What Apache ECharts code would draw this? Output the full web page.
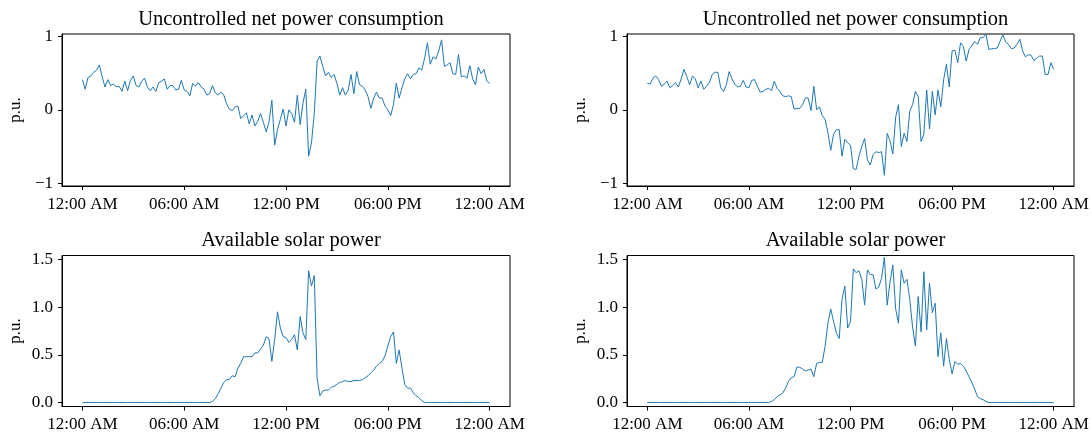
<!DOCTYPE html>
<html>
<head>
<meta charset="utf-8">
<script src="https://cdn.jsdelivr.net/npm/echarts@6/dist/echarts.min.js"></script>
<style>
  html, body { margin: 0; padding: 0; background: #fff; }
  #chart { width: 1092px; height: 434px; }
</style>
</head>
<body>
<div id="chart"></div>
<script>
// samples every 10 minutes, 00:00 .. 24:00 (145 points)
const stepHours = 1 / 6;
const tickHours = [0, 6, 12, 18, 24];
const tickLabels = ['12:00 AM', '06:00 AM', '12:00 PM', '06:00 PM', '12:00 AM'];
const netTicks = [-1, 0, 1];
const solarTicks = [0, 0.5, 1, 1.5];
const titleNet = 'Uncontrolled net power consumption';
const titleSolar = 'Available solar power';

const netLeft = [
  0.41, 0.28, 0.44, 0.46, 0.51, 0.54, 0.61, 0.45, 0.31, 0.41,
  0.33, 0.35, 0.31, 0.32, 0.25, 0.39, 0.26, 0.40, 0.46, 0.33,
  0.31, 0.39, 0.43, 0.31, 0.26, 0.31, 0.25, 0.37, 0.39, 0.42,
  0.28, 0.33, 0.33, 0.27, 0.28, 0.40, 0.27, 0.25, 0.19, 0.36,
  0.32, 0.37, 0.31, 0.28, 0.20, 0.22, 0.33, 0.23, 0.20, 0.24,
  0.20, 0.08, 0.01, -0.01, 0.04, 0.05, -0.12, -0.08, -0.04, -0.19,
  -0.07, -0.22, -0.16, -0.05, -0.17, -0.30, -0.16, 0.13, -0.48, -0.27,
  -0.13, 0.01, -0.22, 0.00, -0.05, -0.17, 0.20, -0.20, 0.09, 0.28,
  -0.63, -0.45, -0.05, 0.66, 0.73, 0.59, 0.46, 0.51, 0.44, 0.48,
  0.36, 0.20, 0.30, 0.20, 0.27, 0.48, 0.22, 0.52, 0.34, 0.32,
  0.27, 0.18, 0.02, 0.16, 0.24, 0.16, 0.16, 0.05, 0.00, -0.08,
  0.07, 0.36, 0.16, 0.30, 0.42, 0.49, 0.42, 0.48, 0.49, 0.57,
  0.54, 0.70, 0.91, 0.62, 0.72, 0.69, 0.80, 0.95, 0.59, 0.61,
  0.64, 0.49, 0.48, 0.75, 0.45, 0.46, 0.43, 0.60, 0.42, 0.34,
  0.58, 0.49, 0.55, 0.39, 0.36
];

const netRight = [
  0.36, 0.35, 0.43, 0.46, 0.41, 0.32, 0.35, 0.39, 0.30, 0.33,
  0.37, 0.31, 0.42, 0.55, 0.45, 0.34, 0.46, 0.42, 0.30, 0.39,
  0.28, 0.32, 0.37, 0.48, 0.51, 0.51, 0.30, 0.25, 0.34, 0.52,
  0.42, 0.35, 0.31, 0.32, 0.40, 0.31, 0.30, 0.40, 0.41, 0.32,
  0.24, 0.25, 0.28, 0.29, 0.26, 0.39, 0.29, 0.25, 0.19, 0.18,
  0.19, 0.18, 0.01, 0.02, 0.02, 0.07, 0.16, 0.16, -0.01, 0.32,
  0.00, 0.04, -0.08, -0.13, -0.31, -0.55, -0.33, -0.27, -0.27, -0.63,
  -0.40, -0.45, -0.48, -0.80, -0.81, -0.63, -0.50, -0.39, -0.68, -0.75,
  -0.61, -0.57, -0.58, -0.57, -0.89, -0.32, -0.42, -0.60, -0.10, 0.07,
  -0.50, -0.32, -0.43, -0.02, 0.07, 0.25, 0.18, -0.43, -0.33, 0.27,
  -0.26, 0.25, -0.07, 0.27, 0.04, 0.41, 0.62, 0.31, 0.80, 0.81,
  0.64, 0.91, 0.86, 0.66, 0.82, 0.87, 0.93, 0.89, 0.98, 0.98,
  1.03, 0.82, 0.83, 0.83, 0.84, 0.93, 1.02, 0.92, 0.89, 0.83,
  0.84, 0.89, 0.96, 0.80, 0.72, 0.75, 0.74, 0.67, 0.70, 0.73,
  0.73, 0.48, 0.48, 0.64, 0.55
];

const solarLeft = [
  0, 0, 0, 0, 0, 0, 0, 0, 0, 0,
  0, 0, 0, 0, 0, 0, 0, 0, 0, 0,
  0, 0, 0, 0, 0, 0, 0, 0, 0, 0,
  0, 0, 0, 0, 0, 0, 0, 0, 0, 0,
  0, 0, 0, 0, 0, 0.00, 0.01, 0.04, 0.09, 0.15,
  0.21, 0.24, 0.24, 0.28, 0.27, 0.36, 0.41, 0.48, 0.48, 0.48,
  0.48, 0.52, 0.52, 0.56, 0.60, 0.69, 0.67, 0.43, 0.66, 0.95,
  0.78, 0.69, 0.68, 0.63, 0.66, 0.71, 0.55, 0.90, 0.73, 0.66,
  1.38, 1.22, 1.33, 0.25, 0.07, 0.12, 0.13, 0.13, 0.16, 0.17,
  0.19, 0.21, 0.22, 0.23, 0.22, 0.22, 0.23, 0.23, 0.23, 0.24,
  0.26, 0.28, 0.31, 0.34, 0.38, 0.41, 0.43, 0.49, 0.59, 0.69,
  0.74, 0.41, 0.55, 0.36, 0.19, 0.15, 0.15, 0.10, 0.07, 0.05,
  0.02, 0, 0, 0, 0, 0, 0, 0, 0, 0,
  0, 0, 0, 0, 0, 0, 0, 0, 0, 0,
  0, 0, 0, 0, 0
];

const solarRight = [
  0, 0, 0, 0, 0, 0, 0, 0, 0, 0,
  0, 0, 0, 0, 0, 0, 0, 0, 0, 0,
  0, 0, 0, 0, 0, 0, 0, 0, 0, 0,
  0, 0, 0, 0, 0, 0, 0, 0, 0, 0,
  0, 0, 0, 0, 0.01, 0.03, 0.06, 0.08, 0.10, 0.15,
  0.22, 0.26, 0.27, 0.37, 0.37, 0.35, 0.33, 0.34, 0.35, 0.27,
  0.41, 0.42, 0.42, 0.59, 0.83, 0.98, 0.85, 0.73, 0.67, 1.08,
  1.22, 0.78, 0.85, 1.40, 1.36, 1.38, 1.29, 1.02, 1.39, 1.34,
  1.34, 1.19, 1.21, 1.30, 1.52, 1.02, 1.26, 1.44, 0.98, 0.83,
  1.39, 1.25, 1.29, 1.08, 0.79, 0.59, 1.11, 0.74, 1.37, 0.76,
  1.25, 0.94, 1.04, 0.48, 0.73, 0.38, 0.67, 0.45, 0.30, 0.43,
  0.40, 0.41, 0.38, 0.33, 0.27, 0.21, 0.14, 0.06, 0.04, 0.03,
  0.01, 0, 0, 0, 0, 0, 0, 0, 0, 0,
  0, 0, 0, 0, 0, 0, 0, 0, 0, 0,
  0, 0, 0, 0, 0
];

const font = '"Liberation Serif", "DejaVu Serif", serif';
const blue = '#1f77b4';

// one entry per subplot
const panels = [
  {title: titleNet, data: netLeft, left: 62, top: 34, width: 448, height: 152, kind: 'net'},
  {title: titleNet, data: netRight, left: 627, top: 34, width: 447, height: 152, kind: 'net'},
  {title: titleSolar, data: solarLeft, left: 62, top: 255.5, width: 448, height: 151, kind: 'solar'},
  {title: titleSolar, data: solarRight, left: 627, top: 255.5, width: 447, height: 151, kind: 'solar'},
];

const fmtNet = v => (v < 0 ? '\u2212' + Math.abs(v) : String(v));
const fmtSolar = v => v.toFixed(1);

const option = {
  animation: false,
  backgroundColor: '#fff',
  title: panels.map(p => ({
    text: p.title,
    left: p.left + p.width / 2,
    top: p.top - 30,
    textAlign: 'center',
    textStyle: {fontFamily: font, fontSize: 20.5, fontWeight: 'normal', color: '#000'},
  })),
  grid: panels.map(p => ({
    left: p.left, top: p.top, width: p.width, height: p.height,
    show: true, borderColor: '#000', borderWidth: 1, backgroundColor: 'transparent',
    containLabel: false,
  })),
  xAxis: panels.map((p, i) => ({
    type: 'value',
    gridIndex: i,
    min: -1.2,
    max: 25.2,
    axisLine: {show: true, onZero: false, lineStyle: {color: '#000', width: 1}},
    axisTick: {show: true, length: 4, customValues: tickHours, lineStyle: {color: '#000'}},
    axisLabel: {
      customValues: tickHours,
      margin: 10,
      color: '#000',
      fontFamily: font,
      fontSize: 17,
      formatter: v => tickLabels[tickHours.indexOf(v)],
    },
    splitLine: {show: false},
  })),
  yAxis: panels.map((p, i) => {
    const net = p.kind === 'net';
    const ticks = net ? netTicks : solarTicks;
    return {
      type: 'value',
      gridIndex: i,
      min: net ? -1.035 : -0.042,
      max: net ? 1.03 : 1.54,
      name: 'p.u.',
      nameLocation: 'middle',
      nameGap: 38,
      nameRotate: 90,
      nameTextStyle: {fontFamily: font, fontSize: 17, color: '#000'},
      axisLine: {show: true, onZero: false, lineStyle: {color: '#000', width: 1}},
      axisTick: {show: true, length: 4, customValues: ticks, lineStyle: {color: '#000'}},
      axisLabel: {
        customValues: ticks,
        margin: 9,
        color: '#000',
        fontFamily: font,
        fontSize: 17,
        formatter: net ? fmtNet : fmtSolar,
      },
      splitLine: {show: false},
    };
  }),
  series: panels.map((p, i) => ({
    type: 'line',
    xAxisIndex: i,
    yAxisIndex: i,
    data: p.data.map((v, k) => [k * stepHours, v]),
    showSymbol: false,
    symbol: 'none',
    clip: true,
    lineStyle: {color: blue, width: 1},
    itemStyle: {color: blue},
  })),
};

const chart = echarts.init(document.getElementById('chart'), null, {renderer: 'canvas'});
chart.setOption(option);
</script>
</body>
</html>
